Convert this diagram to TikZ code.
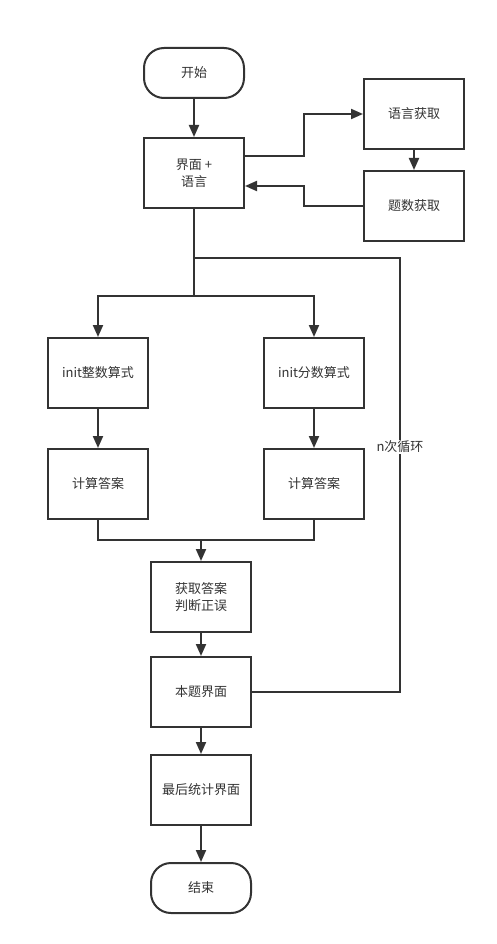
\documentclass[tikz,border=0pt]{standalone}
\usepackage{fontspec}
\setmainfont{Noto Sans CJK SC}
\usetikzlibrary{arrows.meta}
\definecolor{ink}{HTML}{333333}
\tikzset{
  box/.style={draw=ink, line width=2pt, minimum width=100pt, minimum height=70pt, inner sep=0pt, align=center, text=ink, font=\fontsize{13pt}{17pt}\selectfont},
  term/.style={box, minimum height=50pt, rounded corners=20pt},
  conn/.style={draw=ink, line width=2pt},
  arr/.style={conn, -{Triangle[length=12pt,width=10pt]}},
}
\begin{document}
\begin{tikzpicture}[x=1pt,y=-1pt]
\useasboundingbox[fill=white] (0,0) rectangle (496,944);
\node[term] (start) at (194,73) {开始};
\node[box] (ui) at (194,173) {界面 +\\语言};
\node[box] (lang) at (414,114) {语言获取};
\node[box] (num) at (414,206) {题数获取};
\node[box] (initint) at (98,373) {init整数算式};
\node[box] (initfrac) at (314,373) {init分数算式};
\node[box] (calcl) at (98,484) {计算答案};
\node[box] (calcr) at (314,484) {计算答案};
\node[box] (judge) at (201,597) {获取答案\\判断正误};
\node[box] (page) at (201,692) {本题界面};
\node[box] (stat) at (201,790) {最后统计界面};
\node[term] (end) at (201,888) {结束};

\coordinate (split) at (194,296);
\coordinate (loopj) at (194,258);
\coordinate (merge) at (201,540);

\draw[arr] (start) -- (ui);
\draw[arr] (ui.east |- 0,156) -- (304,156) -- (304,114) -- (lang.west);
\draw[arr] (lang) -- (num);
\draw[arr] (num.west) -- (304,206) -- (304,186) -- (ui.east |- 0,186);
\draw[conn] (ui.south) -- (split);
\draw[arr] (split) -| (initint.north);
\draw[arr] (split) -| (initfrac.north);
\draw[arr] (initint) -- (calcl);
\draw[arr] (initfrac) -- (calcr);
\draw[conn] (calcl.south) |- (merge) -| (calcr.south);
\draw[arr] (merge) -- (judge.north);
\draw[arr] (judge) -- (page);
\draw[arr] (page) -- (stat);
\draw[arr] (stat) -- (end);
\draw[conn] (page.east) -- (400,692) -- (400,258) -- (loopj);
\node[fill=white, inner sep=1pt, text=ink, font=\fontsize{13pt}{15pt}\selectfont] (lbl) at (400,447) {n次循环};
\end{tikzpicture}
\end{document}
